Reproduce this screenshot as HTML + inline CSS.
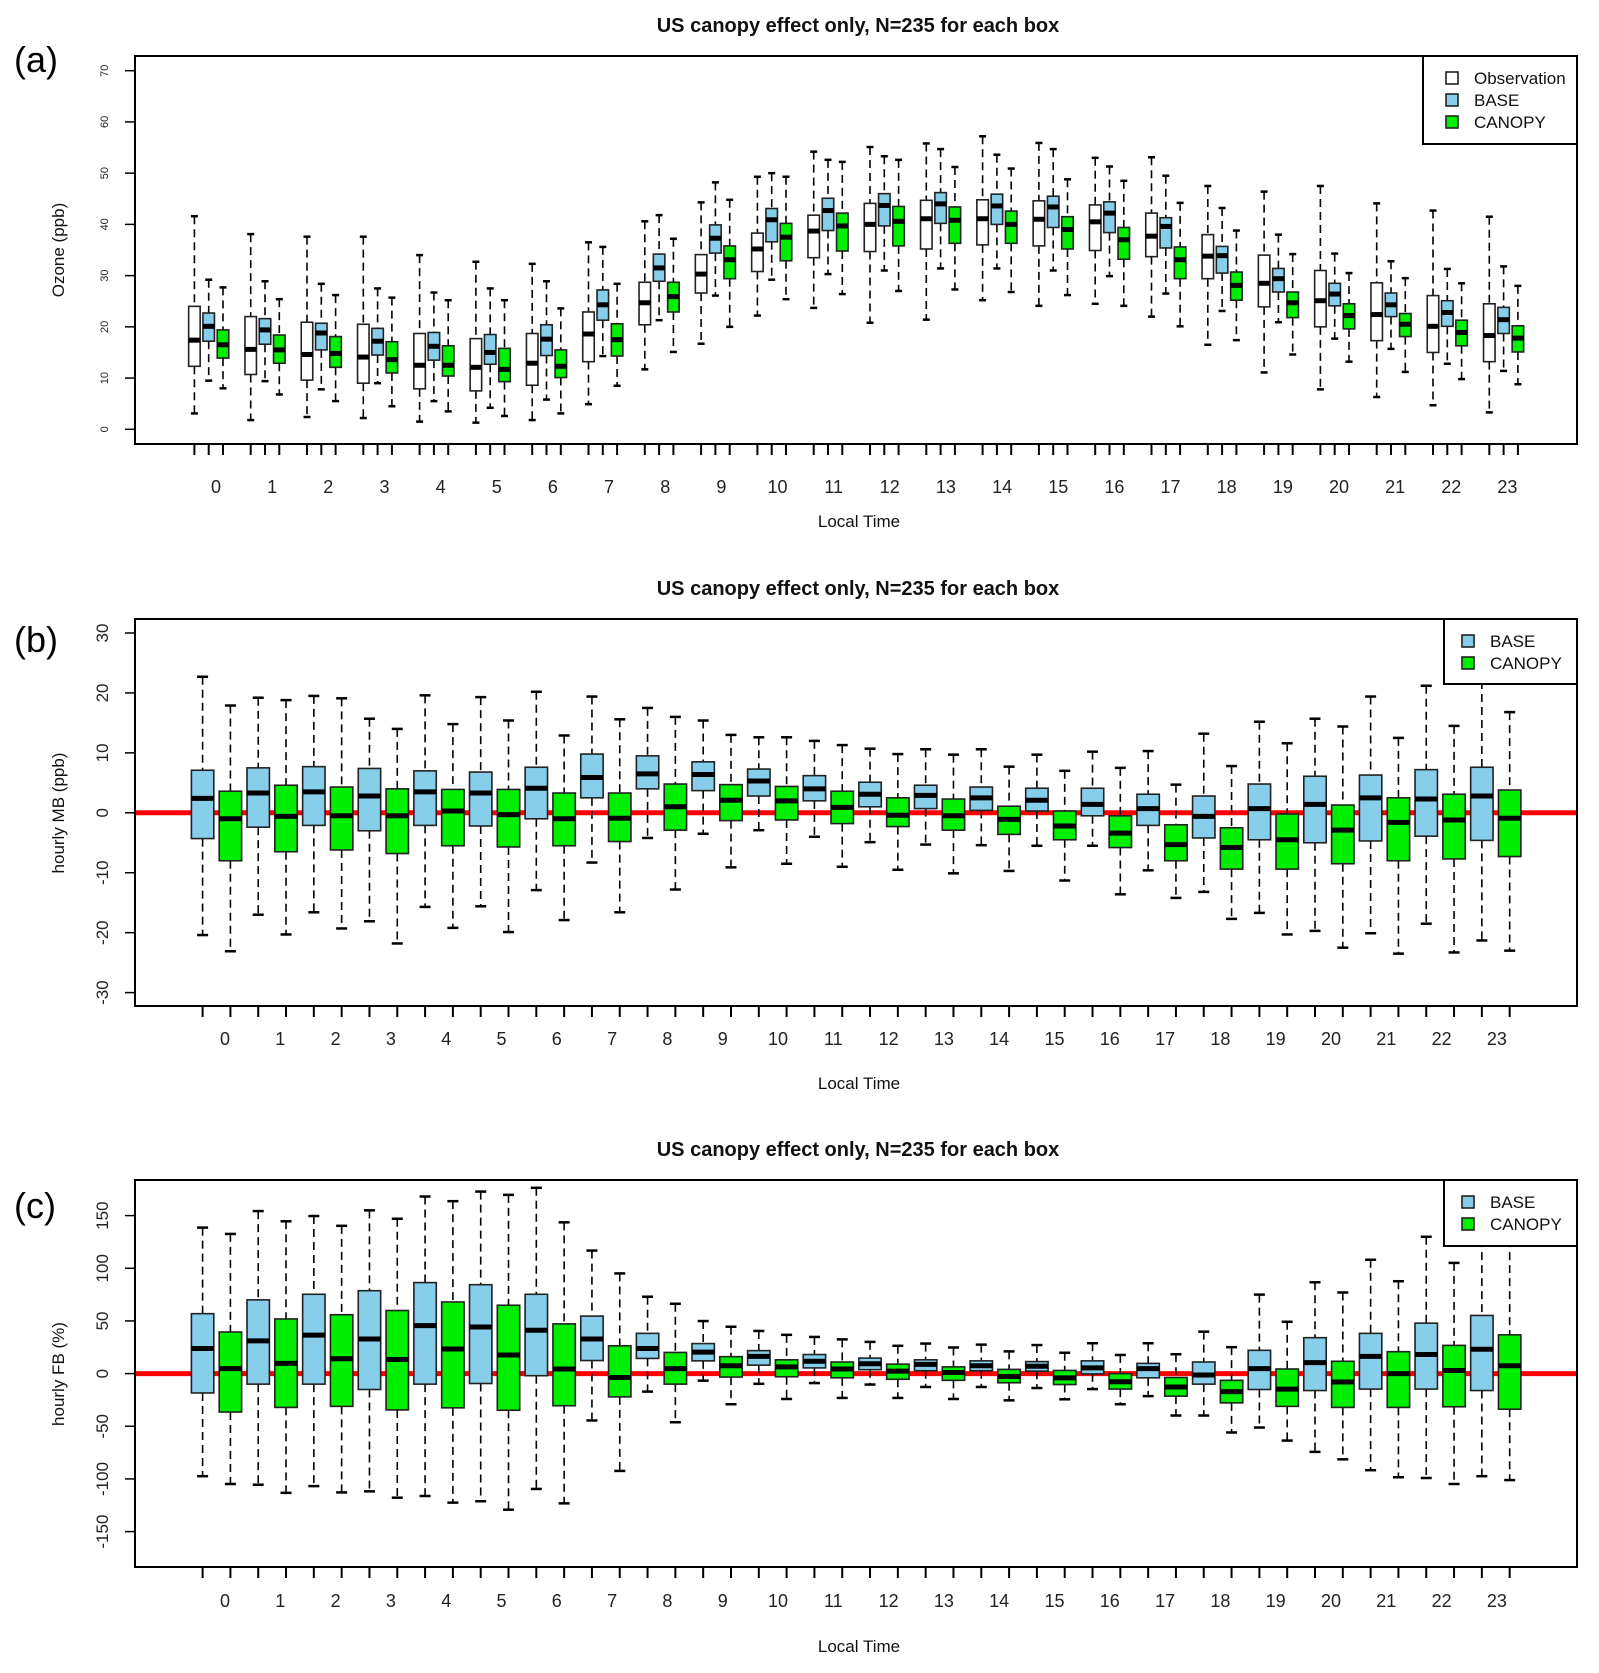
<!DOCTYPE html>
<html><head><meta charset="utf-8"><style>
html,body{margin:0;padding:0;background:#fff;}
svg{display:block;font-family:"Liberation Sans",Arial,sans-serif;}
</style></head>
<body>
<svg id="fig" width="1599" height="1673" viewBox="0 0 1599 1673" xmlns="http://www.w3.org/2000/svg"></svg>
<script>
// ---------- data: each entry = [lo, q1, median, q3, hi] ----------
const hours = [0,1,2,3,4,5,6,7,8,9,10,11,12,13,14,15,16,17,18,19,20,21,22,23];
const aTicks = [0,10,20,30,40,50,60,70];
const bTicks = [-30,-20,-10,0,10,20,30];
const cTicks = [-150,-100,-50,0,50,100,150];

const aObs = [[3.1,12.3,17.4,24,41.6],[1.8,10.7,15.6,22,38.1],[2.4,9.6,14.6,20.9,37.6],[2.2,9,14.1,20.5,37.6],[1.5,7.9,12.5,18.7,34],[1.3,7.5,12.1,17.7,32.7],[1.8,8.6,12.9,18.7,32.3],[4.9,13.2,18.6,22.9,36.5],[11.7,20.4,24.7,28.7,40.6],[16.7,26.6,30.3,34.1,44.3],[22.2,30.8,35.2,38.3,49.3],[23.7,33.5,38.7,41.8,54.2],[20.8,34.7,40,44.1,55.1],[21.4,35.2,41.1,44.7,55.8],[25.2,36,41.1,44.8,57.2],[24.1,35.8,41,44.6,55.9],[24.5,34.9,40.5,43.8,53],[22,33.7,37.7,42.2,53.1],[16.5,29.4,33.8,38,47.5],[11.1,23.9,28.5,34,46.4],[7.8,20,25.1,31,47.5],[6.3,17.3,22.4,28.6,44.1],[4.7,15,20.1,26.1,42.7],[3.3,13.2,18.3,24.5,41.5]];
const aBase = [[9.5,17.2,20.1,22.7,29.2],[9.4,16.6,19.4,21.6,28.9],[7.8,15.5,18.8,20.7,28.4],[9,14.5,17.2,19.7,27.5],[5.5,13.5,16.2,18.9,26.7],[4.2,12.7,15,18.5,27.5],[5.8,14.4,17.6,20.4,28.9],[14.3,21.3,24.3,27.2,35.6],[21.3,28.9,31.5,34.2,41.8],[26.1,34.4,37.3,39.9,48.2],[29.2,36.6,40.9,43.1,50],[30.3,38.8,42.7,45.1,52.6],[31,39.7,43.7,46,53.3],[31.4,40.2,44,46.2,54.7],[31.4,40,43.6,45.9,53.6],[31,39.4,43.4,45.5,54.7],[29.9,38.4,42.2,44.4,51.3],[26.5,35.4,39.6,41.3,49.5],[23.1,30.5,33.9,35.7,43.2],[20.9,26.8,29.4,31.4,38],[17.7,24.1,26.4,28.5,34.3],[15.7,22,24.3,26.6,32.8],[12.8,20.1,22.8,25.1,31.3],[11.4,18.7,21.4,23.8,31.8]];
const aCan = [[8,13.9,16.5,19.4,27.7],[6.8,12.9,15.5,18.4,25.4],[5.5,12.1,14.8,18.1,26.2],[4.5,11,13.6,17.1,25.7],[3.5,10.4,12.5,16.3,25.2],[2.6,9.3,11.7,15.8,25.2],[3.1,10.1,12.3,15.5,23.6],[8.5,14.3,17.5,20.6,28.4],[15.1,22.9,25.9,28.7,37.2],[20,29.4,33.1,35.8,44.8],[25.4,32.9,37.5,40.2,49.3],[26.4,34.8,39.7,42.2,52.2],[27,35.8,40.6,43.5,52.6],[27.3,36.3,40.8,43.4,51.2],[26.8,36.3,40,42.6,50.9],[26.2,35.2,39,41.5,48.8],[24.1,33.2,37,39.4,48.5],[20.1,29.4,33.1,35.6,44.2],[17.4,25.2,28.1,30.7,38.8],[14.6,21.8,24.7,26.8,34.2],[13.2,19.6,22.2,24.5,30.5],[11.2,18.1,20.5,22.6,29.5],[9.8,16.3,18.9,21.3,28.5],[8.8,15.1,17.8,20.2,28]];

const bBase = [[-20.4,-4.3,2.4,7.1,22.7],[-17,-2.4,3.3,7.5,19.2],[-16.6,-2.1,3.5,7.7,19.5],[-18.1,-3,2.8,7.4,15.7],[-15.7,-2.1,3.5,7,19.6],[-15.6,-2.2,3.3,6.8,19.3],[-12.9,-1,4.1,7.6,20.2],[-8.3,2.5,5.9,9.8,19.4],[-4.2,4,6.5,9.5,17.5],[-3.5,3.7,6.4,8.5,15.4],[-2.9,2.8,5.3,7.3,12.6],[-4,2,4,6.2,12],[-4.9,1,3.1,5.1,10.7],[-5.3,0.7,2.9,4.6,10.6],[-5.4,0.4,2.5,4.3,10.6],[-5.5,0.3,2.1,4.1,9.7],[-5.5,-0.5,1.4,4.1,10.2],[-9.6,-2.1,0.7,3.1,10.3],[-13.2,-4.2,-0.6,2.8,13.2],[-16.7,-4.5,0.7,4.8,15.2],[-19.7,-5,1.4,6.1,15.7],[-20.1,-4.7,2.5,6.3,19.4],[-18.5,-3.9,2.3,7.2,21.2],[-21.3,-4.6,2.8,7.6,22]];
const bCan = [[-23.1,-8,-1,3.6,17.9],[-20.3,-6.5,-0.6,4.6,18.8],[-19.3,-6.2,-0.5,4.3,19.1],[-21.8,-6.8,-0.5,4,14],[-19.2,-5.5,0.3,3.9,14.8],[-19.9,-5.7,-0.3,3.9,15.4],[-17.9,-5.5,-1,3.3,12.9],[-16.6,-4.8,-0.9,3.3,15.6],[-12.8,-2.9,1,4.8,16],[-9.1,-1.3,2.1,4.7,13],[-8.5,-1.2,2,4.4,12.6],[-9,-1.8,0.9,3.6,11.3],[-9.5,-2.3,-0.4,2.5,9.8],[-10.1,-2.9,-0.5,2.3,9.7],[-9.7,-3.6,-1.1,1.1,7.7],[-11.3,-4.5,-2.2,0.3,7],[-13.6,-5.8,-3.4,-0.5,7.5],[-14.2,-8,-5.3,-2,4.7],[-17.7,-9.4,-5.8,-2.5,7.8],[-20.3,-9.4,-4.5,-0.2,11.6],[-22.5,-8.5,-2.9,1.3,14.4],[-23.5,-8,-1.6,2.5,12.5],[-23.3,-7.7,-1.2,3.1,14.5],[-23,-7.3,-0.9,3.8,16.8]];

const cBase = [[-97.4,-18.4,23.8,56.9,138.6],[-105.5,-10,31.1,70,154.3],[-106.8,-10,36.5,75.3,149.6],[-111.8,-15.1,32.8,78.7,155],[-116.2,-10,45.5,86.4,168.1],[-121.2,-9.4,44.2,84.4,172.8],[-109.5,-2,41.2,75.3,176.4],[-44.5,12.4,32.8,54.6,116.8],[-17.1,14.4,23.8,38.2,73],[-6.7,12.1,20.4,28.5,49.9],[-9.7,8,16.4,21.8,40.5],[-9,5.4,11.7,18.1,34.8],[-10.4,3.7,9.4,14.7,30.1],[-12.7,2.7,8.7,13.1,28.5],[-12.7,2.7,7.4,12.1,27.5],[-13.7,2.3,7,11.4,27.1],[-14.7,-0.3,5.4,12.1,28.8],[-21.4,-4,4.7,9.7,28.8],[-39.8,-10,-1.3,11,39.8],[-51.2,-15.1,4.7,22.1,75],[-74.3,-16.1,10.4,34.1,86.7],[-91.7,-14.7,16.4,38.2,108.1],[-99.1,-14.7,18.1,47.9,129.9],[-97.4,-16.1,23.1,55.2,140]];
const cCan = [[-104.8,-36.5,4.7,39.5,132.6],[-113.2,-32.1,9.7,51.9,144.6],[-112.8,-31.1,14.1,55.9,140.3],[-117.8,-34.5,13.4,59.9,147],[-122.5,-32.5,23.4,68,163.7],[-129.2,-34.8,17.7,64.9,169.7],[-123.2,-30.5,4.4,47.2,143.6],[-92.4,-22.1,-3.7,26.4,95.1],[-46.2,-10,4.7,20.1,66.3],[-29.1,-3.3,7.4,16.1,44.5],[-24.1,-3,6.4,13.1,36.8],[-23.1,-4,4.4,11,32.5],[-23.1,-5.4,2.3,9,26.4],[-24.1,-6.4,1,6.4,24.8],[-25.4,-8.7,-2.7,4,21.1],[-24.4,-10.4,-4,3,19.8],[-29.1,-14.7,-7.7,0,17.7],[-39.8,-21.4,-12.7,-3.7,18.4],[-55.9,-27.8,-17.1,-6.4,25.1],[-63.6,-31.1,-14.7,4.4,49.2],[-81.4,-32.1,-8,11.7,77],[-98.4,-32.1,0,20.8,87.7],[-104.8,-31.5,3,26.8,105.1],[-101.1,-33.8,7.4,36.8,140]];

// ---------- drawing ----------
const NS = "http://www.w3.org/2000/svg";
const svg = document.getElementById("fig");
function mk(tag, attrs, parent, text){
  const e = document.createElementNS(NS, tag);
  for (const k in attrs) e.setAttribute(k, attrs[k]);
  if (text !== undefined) e.textContent = text;
  (parent || svg).appendChild(e);
  return e;
}
const BLUE = "#87ceeb", GREEN = "#00ee00";

function panel(cfg){
  const g = mk("g", {});
  
  
  const y = v => cfg.y0 + (v - cfg.v0) * (cfg.y1 - cfg.y0) / (cfg.v1 - cfg.v0);
  // title
  const t = mk("text", {x:858, y:cfg.titleY, "text-anchor":"middle", "font-size":20, "font-weight":"bold", fill:"#111"}, g, "US canopy effect only, N=235 for each box");
  
  
  const pl = mk("text", {x:14, y:cfg.labY, "font-size":36, fill:"#000"}, g, cfg.label);
  
  
  // y ticks
  cfg.ticks.forEach(v=>{
    const yy = y(v);
    const tk = mk("line", {x1:125, x2:135, y1:yy, y2:yy, stroke:"#000", "stroke-width":1.5}, g);
    
    
    const tl = mk("text", {x:cfg.ylabX, y:yy, "text-anchor":"middle", "font-size":cfg.ytickFs, fill:"#222", transform:`rotate(-90 ${cfg.ylabX} ${yy})`}, g, String(v));
    
    
  });
  const yt = mk("text", {x:64, y:cfg.ytitleY, "text-anchor":"middle", "font-size":17, fill:"#111", transform:`rotate(-90 64 ${cfg.ytitleY})`}, g, cfg.ytitle);
  
  
  // zero line
  if (cfg.zero){
    const zl = mk("line", {x1:135, x2:1577, y1:y(0), y2:y(0), stroke:"#ff0000", "stroke-width":5}, g);
    
    
  }
  // boxes
  cfg.series.forEach((s, k)=>{
    s.data.forEach((d, h)=>{
      const cx = cfg.xpos(h, k), w = cfg.bw, cw = cfg.cap;
      const bg = mk("g", {}, g);
      
      
      mk("line", {x1:cx, x2:cx, y1:y(d[4]), y2:y(d[3]), stroke:"#000", "stroke-width":1.6, "stroke-dasharray":"8,5"}, bg);
      mk("line", {x1:cx, x2:cx, y1:y(d[1]), y2:y(d[0]), stroke:"#000", "stroke-width":1.6, "stroke-dasharray":"8,5"}, bg);
      mk("line", {x1:cx-cw/2, x2:cx+cw/2, y1:y(d[4]), y2:y(d[4]), stroke:"#000", "stroke-width":2.5}, bg);
      mk("line", {x1:cx-cw/2, x2:cx+cw/2, y1:y(d[0]), y2:y(d[0]), stroke:"#000", "stroke-width":2.5}, bg);
      mk("rect", {x:cx-w/2, y:y(d[3]), width:w, height:Math.max(1, y(d[1])-y(d[3])), fill:s.fill, stroke:"#222", "stroke-width":1.6}, bg);
      mk("line", {x1:cx-w/2, x2:cx+w/2, y1:y(d[2]), y2:y(d[2]), stroke:"#000", "stroke-width":5}, bg);
      const tk = mk("line", {x1:cx, x2:cx, y1:cfg.y1b, y2:cfg.y1b+11, stroke:"#000", "stroke-width":2}, g);
      
      
    });
  });
  // plot frame
  const fr = mk("rect", {x:135, y:cfg.top, width:1442, height:cfg.y1b-cfg.top, fill:"none", stroke:"#000", "stroke-width":2}, g);
  
  
  // x labels
  hours.forEach((hh, h)=>{
    const xl = mk("text", {x:cfg.hx(h), y:cfg.hlabY, "text-anchor":"middle", "font-size":18, fill:"#222"}, g, String(hh));
    
    
  });
  const xt = mk("text", {x:859, y:cfg.xtitleY, "text-anchor":"middle", "font-size":17, fill:"#111"}, g, "Local Time");
  
  
  // legend
  const L = cfg.legend;
  const lg = mk("g", {}, g);
  
  
  mk("rect", {x:L.x, y:cfg.top, width:1577-L.x, height:L.h, fill:"#fff", stroke:"#000", "stroke-width":2}, lg);
  cfg.series.forEach((s, k)=>{
    const ey = L.y + k*L.dy;
    const eg = mk("g", {}, lg);
    
    
    mk("rect", {x:L.sx-6, y:ey-6, width:12, height:12, fill:s.fill, stroke:"#222", "stroke-width":1.6}, eg);
    mk("text", {x:L.sx+22, y:ey+6, "font-size":17, fill:"#111"}, eg, s.label);
  });
}

panel({name:"panel-a-ozone", label:"(a)", labY:72, titleY:32, top:56, y1b:444,
  v0:0, v1:70, y0:429.3, y1:70.7, ticks:aTicks, ytickFs:11, ylabX:108,
  ytitle:"Ozone (ppb)", ytitleY:250, zero:false, bw:11.5, cap:7,
  xpos:(h,k)=>194.4 + h*56.3 + k*14.3, hx:h=>216 + h*56.15, hlabY:493, xtitleY:527,
  series:[{key:"observation", label:"Observation", fill:"#fff", data:aObs},
          {key:"base", label:"BASE", fill:BLUE, data:aBase},
          {key:"canopy", label:"CANOPY", fill:GREEN, data:aCan}],
  legend:{x:1423, h:88, y:78, dy:22, sx:1452}});

panel({name:"panel-b-mean-bias", label:"(b)", labY:652, titleY:595, top:619, y1b:1006,
  v0:0, v1:30, y0:812.8, y1:633, ticks:bTicks, ytickFs:17, ylabX:108,
  ytitle:"hourly MB (ppb)", ytitleY:813, zero:true, bw:22.4, cap:11,
  xpos:(h,k)=>202.6 + (2*h+k)*27.81, hx:h=>225 + h*55.3, hlabY:1045, xtitleY:1089,
  series:[{key:"base", label:"BASE", fill:BLUE, data:bBase},
          {key:"canopy", label:"CANOPY", fill:GREEN, data:bCan}],
  legend:{x:1444, h:65, y:641, dy:22, sx:1468}});

panel({name:"panel-c-fractional-bias", label:"(c)", labY:1218, titleY:1156, top:1180, y1b:1567,
  v0:0, v1:150, y0:1373.6, y1:1215.6, ticks:cTicks, ytickFs:17, ylabX:108,
  ytitle:"hourly FB (%)", ytitleY:1374, zero:true, bw:22.4, cap:11,
  xpos:(h,k)=>202.6 + (2*h+k)*27.81, hx:h=>225 + h*55.3, hlabY:1607, xtitleY:1652,
  series:[{key:"base", label:"BASE", fill:BLUE, data:cBase},
          {key:"canopy", label:"CANOPY", fill:GREEN, data:cCan}],
  legend:{x:1444, h:66, y:1202, dy:22, sx:1468}});
</script>
</body></html>
